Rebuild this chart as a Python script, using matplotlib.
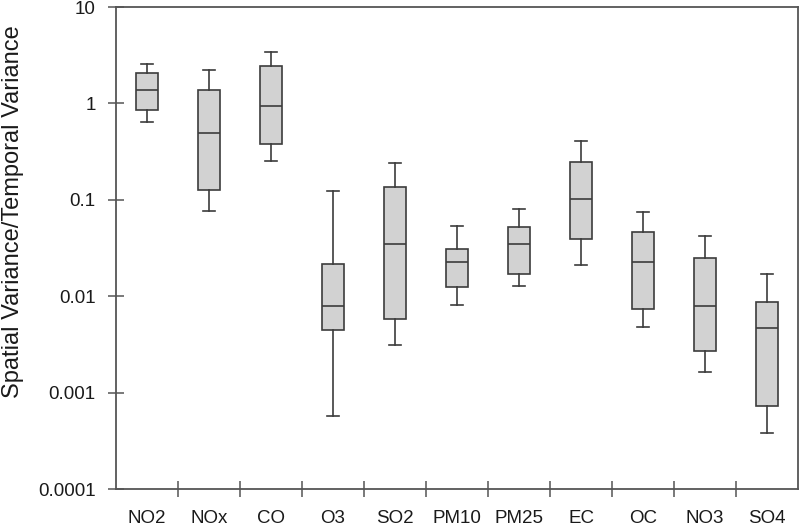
import numpy as np
import matplotlib
matplotlib.use('Agg')
import matplotlib.pyplot as plt

plt.rcParams['font.family'] = ['Liberation Sans', 'DejaVu Sans']

# 数据
species = ['NO2', 'NOx', 'CO', 'O3', 'SO2', 'PM10', 'PM25', 'EC', 'OC', 'NO3', 'SO4']
whis_low = [0.635, 0.0757, 0.254, 0.000575, 0.00314, 0.00804, 0.0128, 0.0211, 0.00475, 0.00162, 0.000377]
q1 = [0.86, 0.125, 0.378, 0.00447, 0.00575, 0.0125, 0.0171, 0.0394, 0.00743, 0.00272, 0.00072]
median = [1.39, 0.492, 0.946, 0.00785, 0.035, 0.0225, 0.0352, 0.102, 0.0225, 0.00785, 0.00469]
q3 = [2.06, 1.39, 2.44, 0.0216, 0.137, 0.0312, 0.0528, 0.247, 0.0466, 0.0252, 0.00873]
whis_high = [2.56, 2.24, 3.44, 0.122, 0.242, 0.0541, 0.0798, 0.410, 0.075, 0.0426, 0.0169]
ytick_vals = [0.0001, 0.001, 0.01, 0.1, 1, 10]
ytick_labels = ['0.0001', '0.001', '0.01', '0.1', '1', '10']

stats = []
for i in range(len(species)):
    stats.append({'label': species[i], 'whislo': whis_low[i], 'q1': q1[i], 'med': median[i],
                  'q3': q3[i], 'whishi': whis_high[i], 'fliers': []})

fig = plt.figure(figsize=(8, 5.27), dpi=100)
ax = fig.add_axes([0.145, 0.0721, 0.8525, 0.9146])

edge = '#3c3c3c'
pos = np.arange(1, len(species) + 1)
ax.bxp(stats, positions=pos, widths=0.37, capwidths=0.19, patch_artist=True, showfliers=False,
       boxprops=dict(facecolor='#d2d2d2', edgecolor=edge, linewidth=1.2),
       medianprops=dict(color=edge, linewidth=1.2),
       whiskerprops=dict(color=edge, linewidth=1.2),
       capprops=dict(color=edge, linewidth=1.2))

ax.set_yscale('log')
ax.set_ylim(0.0001, 10)
ax.set_xlim(0.5, len(species) + 0.5)

ax.set_yticks(ytick_vals)
ax.set_yticklabels(ytick_labels)
ax.yaxis.set_minor_locator(matplotlib.ticker.NullLocator())
ax.tick_params(axis='y', which='major', direction='inout', length=12, width=1.1,
               color='#555555', labelsize=13.5, pad=8.5, labelcolor='#1a1a1a')

# 类别分界处的刻度, 标签放在中间
ax.set_xticks(np.arange(1.5, len(species), 1.0))
ax.set_xticklabels([])
ax.set_xticks(pos, minor=True)
ax.set_xticklabels(species, minor=True)
ax.tick_params(axis='x', which='major', direction='inout', length=12, width=1.1, color='#555555')
ax.tick_params(axis='x', which='minor', length=0, labelsize=13.5, pad=15, labelcolor='#1a1a1a')

for s in ax.spines.values():
    s.set_color('#555555')
    s.set_linewidth(1.3)

fig.text(13 / 800, 1 - 212 / 527, 'Spatial Variance/Temporal Variance', rotation=90,
         ha='center', va='center', fontsize=17, color='#1a1a1a')

fig.savefig('out.png', dpi=100)
